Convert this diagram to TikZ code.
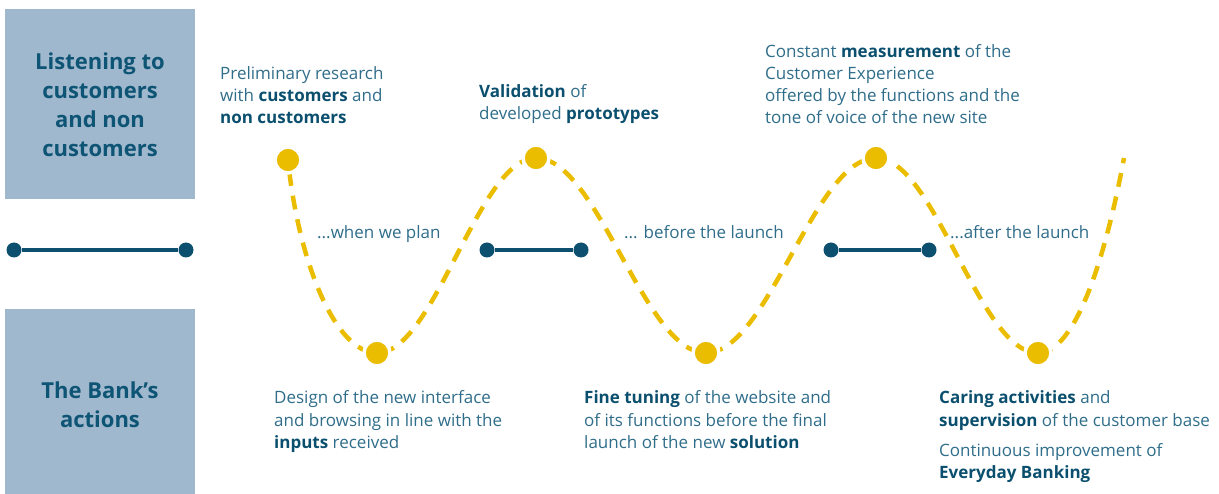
\documentclass[tikz,border=0pt]{standalone}
\usepackage{fontspec}
\setmainfont{Open Sans}
\definecolor{boxfill}{HTML}{A0B8CE}
\definecolor{titlec}{HTML}{0E5474}
\definecolor{bodyc}{HTML}{2F6D8A}
\definecolor{boldc}{HTML}{0B4F6E}
\definecolor{yel}{HTML}{EBBD00}
\definecolor{navy}{HTML}{0D4F6E}
\newcommand{\hl}[1]{{\bfseries\color{boldc}#1}}
\tikzset{
  sidebox/.style={fill=boxfill, draw=none},
  title/.style={font=\fontsize{22}{29}\selectfont\bfseries, text=titlec, align=center, inner sep=0pt},
  body/.style={font=\fontsize{17}{22}\selectfont, text=bodyc, align=left, inner sep=0pt, anchor=base west},
  phase/.style={font=\fontsize{17}{22}\selectfont, text=bodyc, inner sep=0pt, anchor=base west},
  ydot/.style={circle, fill=yel, draw=white, line width=3.5pt, minimum size=26pt, inner sep=0pt},
  ndot/.style={circle, fill=navy, minimum size=15pt, inner sep=0pt},
  wave/.style={yel, line width=4.5pt, dash pattern=on 14pt off 10pt, dash phase=-12pt},
  bar/.style={navy, line width=3.5pt}
}
\begin{document}
\begin{tikzpicture}[x=1pt,y=-1pt]
\useasboundingbox (0,0) rectangle (1219,494);
% side boxes
\fill[sidebox] (5,9) rectangle (195,199);
\fill[sidebox] (5,309) rectangle (195,494);
\node[title] (t1) at (100,105) {Listening to\\customers\\and non\\customers};
\node[title] (t2) at (100,405) {The Bank’s\\actions};
% navy bars
\node[ndot] (a1) at (14,250) {};
\node[ndot] (a2) at (186,250) {};
\node[ndot] (b1) at (487,250) {};
\node[ndot] (b2) at (581,250) {};
\node[ndot] (c1) at (831,250) {};
\node[ndot] (c2) at (929,250) {};
\draw[bar] (a1) -- (a2);
\draw[bar] (b1) -- (b2);
\draw[bar] (c1) -- (c2);
% wave
\coordinate (p1) at (288,160);
\coordinate (v1) at (377,353);
\coordinate (p2) at (536,158);
\coordinate (v2) at (706,353);
\coordinate (p3) at (876,158);
\coordinate (v3) at (1038,353);
\coordinate (e) at (1124,158);
\draw[wave] (p1) .. controls (298,260) and (335,353) .. (v1)
  -- plot[domain=0:1, samples=40, variable=\t] ({377+159*\t},{353-195*(1-cos(180*\t))/2})
  -- plot[domain=0:1, samples=40, variable=\t] ({536+170*\t},{158+195*(1-cos(180*\t))/2})
  -- plot[domain=0:1, samples=40, variable=\t] ({706+170*\t},{353-195*(1-cos(180*\t))/2})
  -- plot[domain=0:1, samples=40, variable=\t] ({876+162*\t},{158+195*(1-cos(180*\t))/2})
  .. controls (1075,353) and (1105,260) .. (e);
\node[ydot] (d1) at (p1) {};
\node[ydot] (d2) at (v1) {};
\node[ydot] (d3) at (p2) {};
\node[ydot] (d4) at (v2) {};
\node[ydot] (d5) at (p3) {};
\node[ydot] (d6) at (v3) {};
% phase labels
\node[phase] (l1) at (317,239) {...when we plan};
\node[phase] (l2) at (624,239) {... before the launch};
\node[phase] (l3) at (950,239) {...after the launch};
% top texts (anchor = baseline of last line)
\node[body] (x1) at (220,124) {Preliminary research\\with \hl{customers} and\\\hl{non customers}};
\node[body] (x2) at (479,120) {\hl{Validation} of\\developed \hl{prototypes}};
\node[body] (x3) at (765,124) {Constant \hl{measurement} of the\\Customer Experience\\offered by the functions and the\\tone of voice of the new site};
% bottom texts
\node[body] (y1) at (274,448) {Design of the new interface\\and browsing in line with the\\\hl{inputs} received};
\node[body] (y2) at (584,448) {\hl{Fine tuning} of the website and\\of its functions before the final\\launch of the new \hl{solution}};
\node[body] (y3) at (939,426) {\hl{Caring activities} and\\\hl{supervision} of the customer base};
\node[body] (y4) at (939,478) {Continuous improvement of\\\hl{Everyday Banking}};
\end{tikzpicture}
\end{document}
